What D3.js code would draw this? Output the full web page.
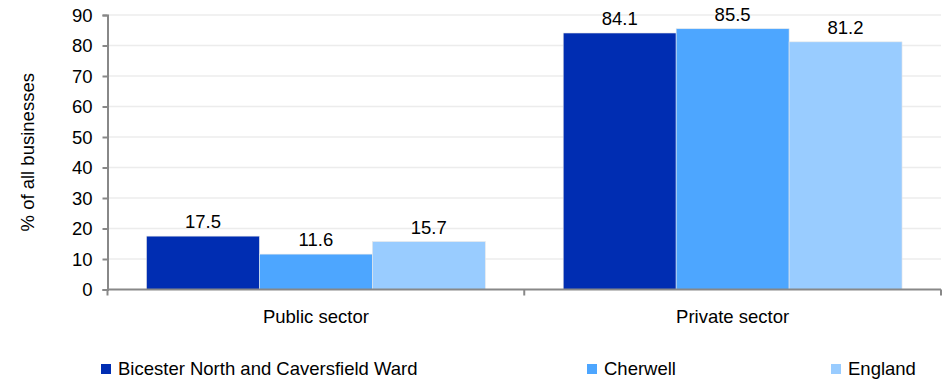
<!DOCTYPE html>
<html><head><meta charset="utf-8">
<script src="https://cdn.jsdelivr.net/npm/d3@7"></script>
<style>body{margin:0;background:#fff}svg text{font-family:"Liberation Sans",Arial,sans-serif;fill:#000}</style>
</head><body><svg id="c" width="944" height="380"></svg>
<script>
const categories = ["Public sector", "Private sector"];
const seriesNames = ["Bicester North and Caversfield Ward", "Cherwell", "England"];
const seriesColors = ["#002db2", "#4da6ff", "#99ccff"];
const bicester = [17.5, 84.1];
const cherwell = [11.6, 85.5];
const england = [15.7, 81.2];
const yTicks = [0, 10, 20, 30, 40, 50, 60, 70, 80, 90];
const yTitle = "% of all businesses";

const values = [bicester, cherwell, england];
const FS = 18.5;
const svg = d3.select("#c");
const L = 107.5, R = 941, T = 15, B = 289.5;
const x = d3.scaleBand().domain(categories).range([L, R]).paddingInner(0.187).paddingOuter(0.0935);
const band = d3.scaleBand().domain(seriesNames).range([0, x.bandwidth()]);
const y = d3.scaleLinear().domain([0, 90]).range([B, T]);

function text(parent, px, py, str, anchor) {
  return parent.append("text").attr("x", px).attr("y", py)
    .attr("text-anchor", anchor || "start").attr("font-size", FS).text(str);
}

// gridlines
svg.append("g").selectAll("line").data(yTicks.filter(d => d > 0)).join("line")
  .attr("x1", L).attr("x2", R).attr("y1", d => y(d)).attr("y2", d => y(d))
  .attr("stroke", "#ececec").attr("stroke-width", 1.5);

// bars
const labels = svg.append("g");
seriesNames.forEach((s, i) => {
  svg.append("g").selectAll("rect").data(categories).join("rect")
    .attr("x", c => x(c) + band(s))
    .attr("width", band.bandwidth())
    .attr("y", (c, j) => y(values[i][j]))
    .attr("height", (c, j) => B - y(values[i][j]))
    .attr("fill", seriesColors[i])
    .attr("stroke", "#e8e8e8").attr("stroke-width", 0.6);
  categories.forEach((c, j) => {
    text(labels, x(c) + band(s) + band.bandwidth() / 2, y(values[i][j]) - 8, values[i][j].toFixed(1), "middle");
  });
});

// y axis
const ya = svg.append("g").attr("transform", `translate(${L},0)`)
  .call(d3.axisLeft(y).tickValues(yTicks).tickSize(5).tickPadding(6));
ya.select(".domain").attr("stroke", "#888").attr("stroke-width", 2);
ya.selectAll(".tick line").attr("stroke", "#888").attr("stroke-width", 2);
ya.selectAll(".tick text").remove();
yTicks.forEach(t => text(svg, L - 15, y(t) + 6.7, String(t), "end"));

// x axis
const xa = svg.append("g").attr("transform", `translate(0,${B})`)
  .call(d3.axisBottom(x).tickSize(0));
xa.select(".domain").attr("stroke", "#888").attr("stroke-width", 2).attr("d", `M${L},0H${R}`);
xa.selectAll(".tick text").remove();
categories.forEach(c => text(svg, x(c) + x.bandwidth() / 2, 323, c, "middle"));
svg.append("g").selectAll("line").data([L, (L + R) / 2, R]).join("line")
  .attr("x1", d => d).attr("x2", d => d).attr("y1", B).attr("y2", B + 6)
  .attr("stroke", "#888").attr("stroke-width", 2);

// y title
svg.append("text").attr("transform", `translate(34,${(T + B) / 2}) rotate(-90)`)
  .attr("text-anchor", "middle").attr("font-size", FS).text(yTitle);

// legend
const legX = [101, 587, 831];
seriesNames.forEach((s, i) => {
  svg.append("rect").attr("x", legX[i]).attr("y", 364).attr("width", 10).attr("height", 10).attr("fill", seriesColors[i]);
  text(svg, legX[i] + 17, 375, s, "start");
});
</script></body></html>
